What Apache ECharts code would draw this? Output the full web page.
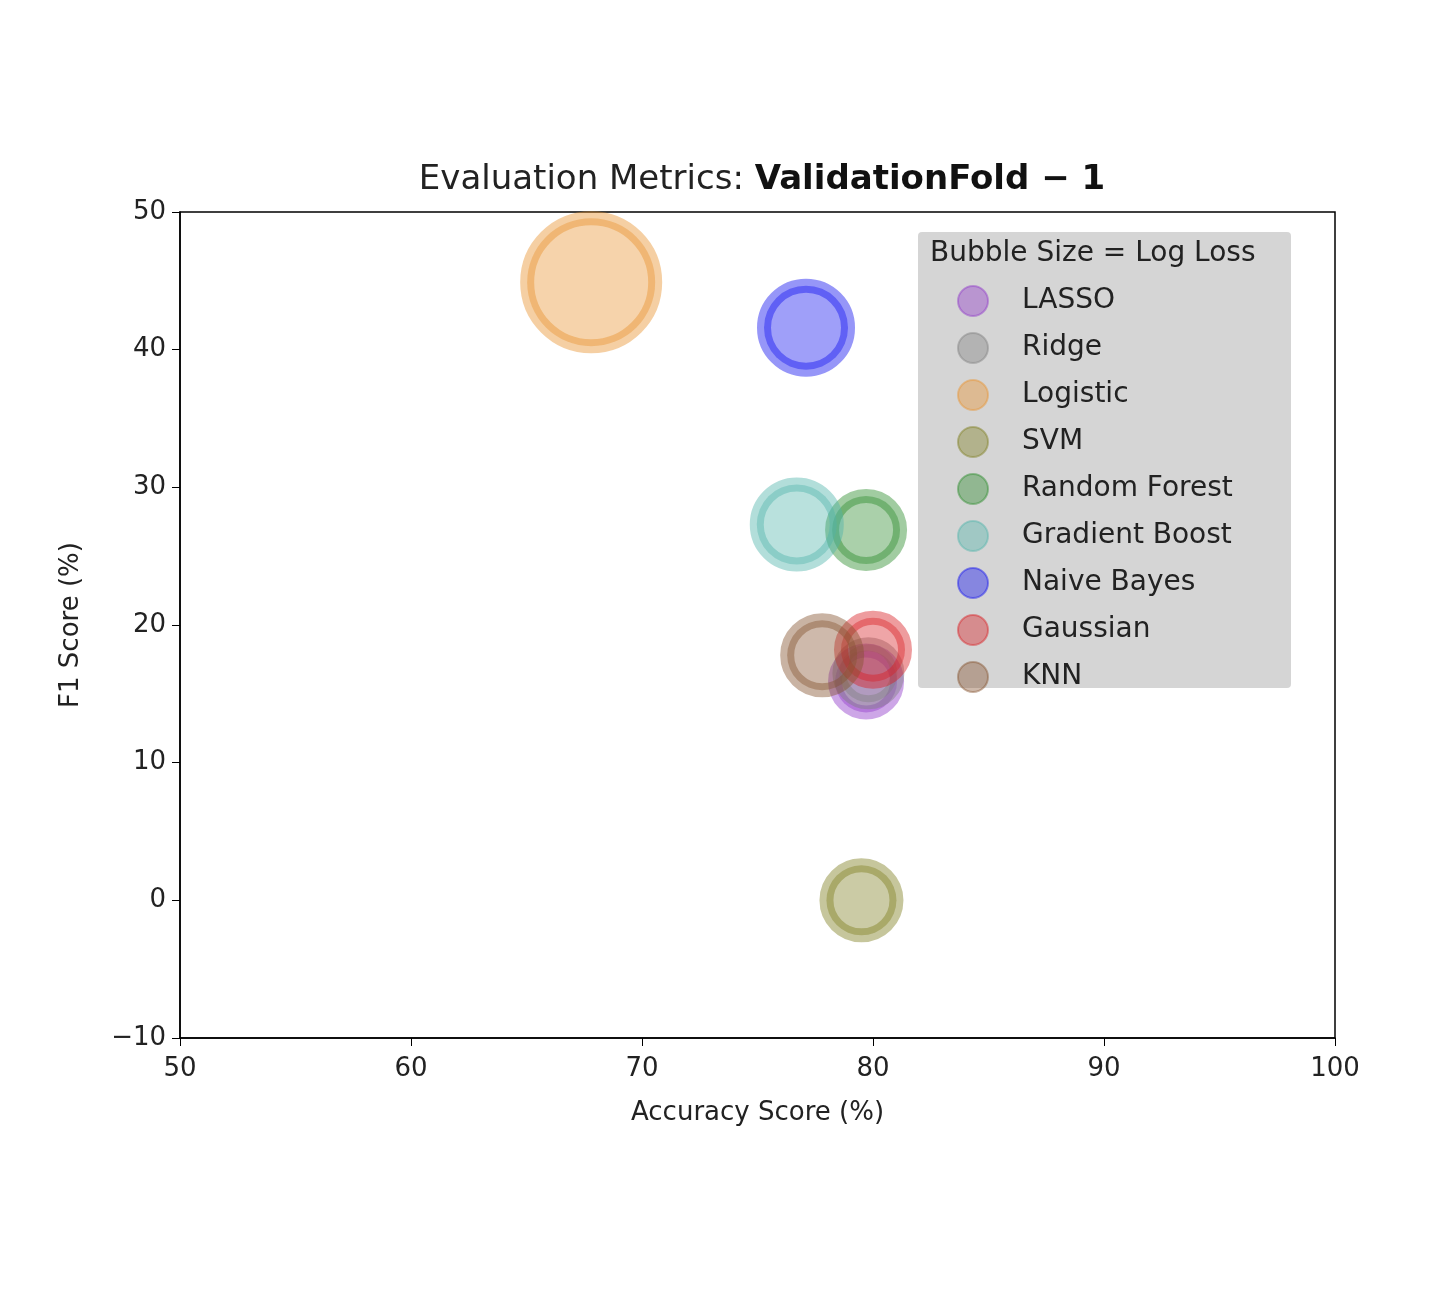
<!DOCTYPE html>
<html>
<head>
<meta charset="utf-8">
<script src="https://cdn.jsdelivr.net/npm/echarts@6/dist/echarts.min.js"></script>
<style>html,body{margin:0;background:#fff}#c{width:1439px;height:1292px}</style>
</head>
<body>
<div id="c"></div>
<script>
// model names, scores and bubble sizes (log loss, as pixel diameter)
var models = ['LASSO', 'Ridge', 'Logistic', 'SVM', 'Random Forest', 'Gradient Boost', 'Naive Bayes', 'Gaussian', 'KNN'];
var accuracy = [79.7, 79.8, 67.8, 79.5, 79.7, 76.7, 77.1, 80.0, 77.8];
var f1 = [15.9, 16.5, 44.9, 0.0, 26.9, 27.3, 41.6, 18.2, 17.8];
var bubble = [62, 58, 128, 70, 68, 80, 84, 64, 70];
var colors = ['#8e35c8', '#7f7f7f', '#e8922e', '#7d7d1e', '#2a8a2a', '#4fb3ab', '#1010f0', '#d81e22', '#84512e'];

var chart = echarts.init(document.getElementById('c'));
var font = 'DejaVu Sans';

var series = models.map(function (m, i) {
  return {
    name: m,
    type: 'scatter',
    data: [[accuracy[i], f1[i]]],
    symbolSize: bubble[i],
    itemStyle: {
      color: echarts.color.modifyAlpha(colors[i], 0.5),
      borderColor: echarts.color.modifyAlpha(colors[i], 0.55),
      borderWidth: 14
    }
  };
});

chart.setOption({
  animation: false,
  textStyle: { fontFamily: font },
  title: {
    text: 'Evaluation Metrics: {b|ValidationFold − 1}',
    left: 757, top: 158, textAlign: 'center',
    textStyle: {
      fontSize: 34, fontWeight: 'normal', color: '#222', fontFamily: font,
      rich: { b: { fontSize: 34, fontWeight: 'bold', color: '#111', fontFamily: font } }
    }
  },
  grid: { left: 180, right: 104, top: 212, bottom: 254, show: true, borderColor: '#000', borderWidth: 1.5 },
  xAxis: {
    type: 'value', min: 50, max: 100, interval: 10,
    name: 'Accuracy Score (%)', nameLocation: 'middle', nameGap: 62,
    nameTextStyle: { fontSize: 26, color: '#222' },
    axisLine: { onZero: false, lineStyle: { color: '#000', width: 1.5 } },
    axisTick: { show: true, length: 8, lineStyle: { color: '#000' } },
    axisLabel: { fontSize: 26, color: '#222', margin: 18 },
    splitLine: { show: false }
  },
  yAxis: {
    type: 'value', min: -10, max: 50, interval: 10,
    name: 'F1 Score (%)', nameLocation: 'middle', nameGap: 96,
    nameTextStyle: { fontSize: 26, color: '#222' },
    axisLine: { show: true, onZero: false, lineStyle: { color: '#000', width: 1.5 } },
    axisTick: { show: true, length: 8, lineStyle: { color: '#000' } },
    axisLabel: { fontSize: 26, color: '#222', margin: 14,
      formatter: function (v) { return v < 0 ? '−' + Math.abs(v) : v; } },
    splitLine: { show: false }
  },
  graphic: [
    { type: 'rect', left: 918, top: 232, z: 0,
      shape: { width: 373, height: 456, r: 4 },
      style: { fill: '#d3d3d3', opacity: 0.95 } },
    { type: 'text', left: 930, top: 240, z: 1,
      style: { text: 'Bubble Size = Log Loss', font: '28px "DejaVu Sans"', fill: '#222' } }
  ],
  legend: {
    orient: 'vertical', left: 957, top: 285, itemGap: 15, padding: 0,
    itemWidth: 32, itemHeight: 30, icon: 'circle',
    textStyle: { fontSize: 28, color: '#222', lineHeight: 30, padding: [0, 0, 0, 28] },
    data: models
  },
  series: series
});
</script>
</body>
</html>
